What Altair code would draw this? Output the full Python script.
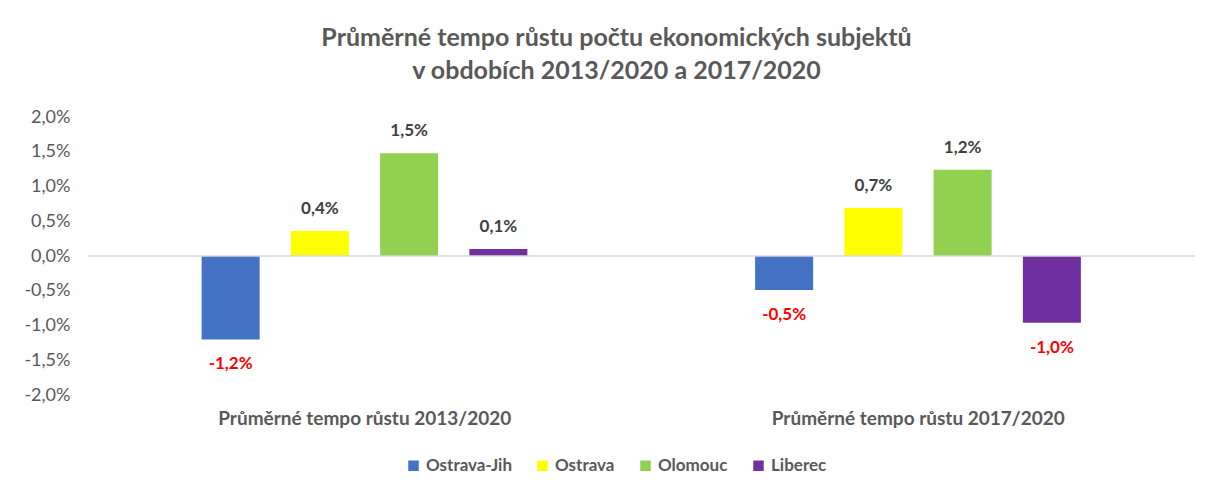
import altair as alt
import pandas as pd

groups = ["Průměrné tempo růstu 2013/2020", "Průměrné tempo růstu 2017/2020"]
cities = ["Ostrava-Jih", "Ostrava", "Olomouc", "Liberec"]
colors = ["#4472C4", "#FFFF00", "#92D050", "#7030A0"]
values_2013 = [-1.2, 0.36, 1.48, 0.1]
values_2017 = [-0.49, 0.69, 1.24, -0.96]
y_ticks = [-2.0, -1.5, -1.0, -0.5, 0.0, 0.5, 1.0, 1.5, 2.0]

rows = []
for g, vals in zip(groups, [values_2013, values_2017]):
    for c, v in zip(cities, vals):
        rows.append({"group": g, "city": c, "value": v,
                     "label": f"{v:.1f}".replace(".", ",") + "%"})
df = pd.DataFrame(rows)

FONT = "Lato"
GRAY = "#595959"

x_enc = alt.X("group:N", sort=groups, title=None,
              scale=alt.Scale(paddingInner=0, paddingOuter=0),
              axis=alt.Axis(domain=False, ticks=False, labelPadding=14, labelAngle=0,
                            labelFontSize=19, labelFontWeight="bold", labelColor=GRAY,
                            labelFont=FONT, labelLimit=0))
xo_enc = alt.XOffset("city:N", sort=cities,
                     scale=alt.Scale(range=[98, 455], paddingInner=0.35, paddingOuter=0.175))
y_enc = alt.Y("value:Q", scale=alt.Scale(domain=[-2, 2], nice=False), title=None,
              axis=alt.Axis(values=y_ticks, grid=False, domain=False, ticks=False,
                            labelOverlap=False, labelPadding=18, labelFontSize=18,
                            labelColor=GRAY, labelFont=FONT,
                            labelExpr="(datum.value < 0 ? '-' : '') + replace(format(abs(datum.value), '.1f'), '.', ',') + '%'"))

base = alt.Chart(df)

bars = base.mark_bar().encode(
    x=x_enc,
    xOffset=xo_enc,
    y=y_enc,
    color=alt.Color("city:N", sort=cities,
                    scale=alt.Scale(domain=cities, range=colors),
                    legend=alt.Legend(title=None, orient="none", direction="horizontal",
                                      legendX=317, legendY=340, symbolType="square",
                                      symbolSize=110, symbolStrokeWidth=0,
                                      labelFontSize=17, labelFontWeight="bold",
                                      labelColor=GRAY, labelFont=FONT,
                                      columnPadding=22, labelOffset=4)),
)

zero = alt.Chart(pd.DataFrame({"value": [0.0]})).mark_rule(
    color="#d9d9d9", strokeWidth=1.5).encode(y=y_enc)

pos_labels = base.transform_filter("datum.value >= 0").mark_text(
    dy=-22, fontSize=17, fontWeight="bold", color="#404040", font=FONT, baseline="middle"
).encode(x=x_enc, xOffset=xo_enc, y=y_enc, text="label:N")

neg_labels = base.transform_filter("datum.value < 0").mark_text(
    dy=25, fontSize=17, fontWeight="bold", color="#FF0000", font=FONT, baseline="middle"
).encode(x=x_enc, xOffset=xo_enc, y=y_enc, text="label:N")

chart = alt.layer(bars, zero, pos_labels, neg_labels).properties(
    width=1107, height=278,
    autosize=alt.AutoSizeParams(type="none"),
    padding={"left": 80, "top": 109, "right": 10, "bottom": 90},
    title=alt.Title(["Průměrné tempo růstu počtu ekonomických subjektů",
                     "v obdobích  2013/2020 a 2017/2020"],
                    fontSize=25, fontWeight="bold", color=GRAY, font=FONT,
                    anchor="middle", offset=24, lineHeight=33, dx=-25),
).configure(background="white").configure_view(strokeWidth=0)

chart.save("out.html", embed_options={"renderer": "svg", "actions": False})
